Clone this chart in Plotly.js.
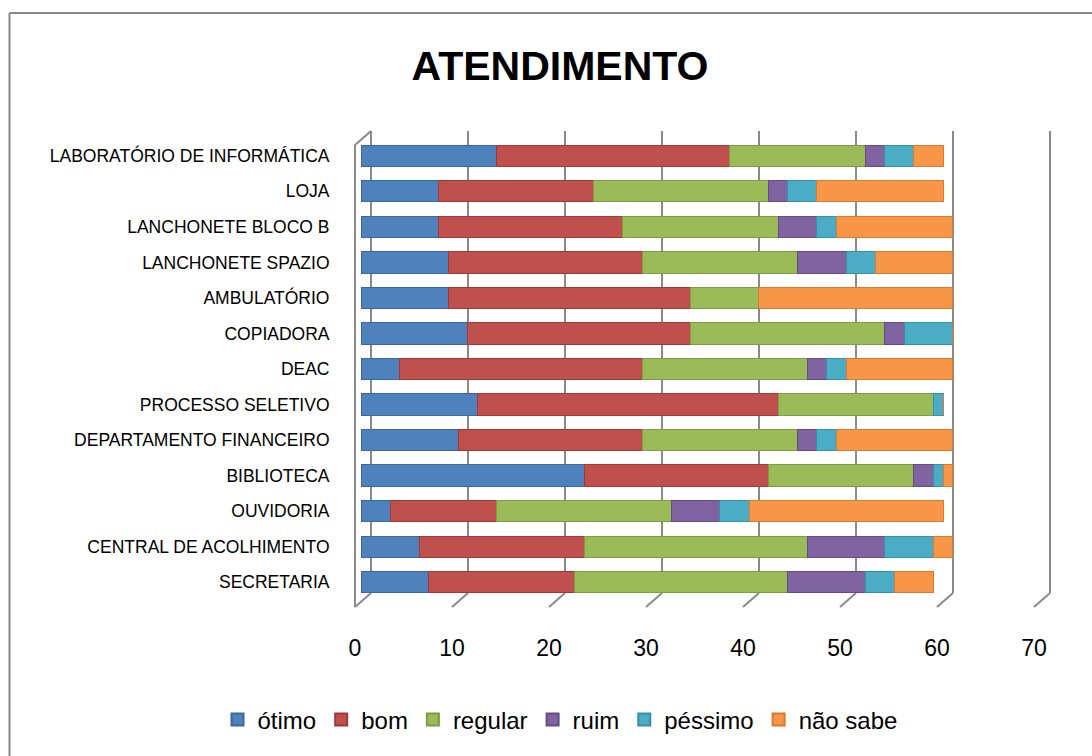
<!DOCTYPE html>
<html>
<head>
<meta charset="utf-8">
<script src="https://cdn.plot.ly/plotly-3.0.1.min.js"></script>
<style>html,body{margin:0;padding:0;background:#fff;}#chart{width:1092px;height:756px;}</style>
</head>
<body>
<div id="chart"></div>
<script>
// ---- data (bottom row first, as the category axis draws it) ----
const categories = [
  "SECRETARIA", "CENTRAL DE ACOLHIMENTO", "OUVIDORIA", "BIBLIOTECA",
  "DEPARTAMENTO FINANCEIRO", "PROCESSO SELETIVO", "DEAC", "COPIADORA",
  "AMBULATÓRIO", "LANCHONETE SPAZIO", "LANCHONETE BLOCO B", "LOJA",
  "LABORATÓRIO DE INFORMÁTICA"
];
const otimo   = [7, 6, 3, 23, 10, 12, 4, 11, 9, 9, 8, 8, 14];
const bom     = [15, 17, 11, 19, 19, 31, 25, 23, 25, 20, 19, 16, 24];
const regular = [22, 23, 18, 15, 16, 16, 17, 20, 7, 16, 16, 18, 14];
const ruim    = [8, 8, 5, 2, 2, 0, 2, 2, 0, 5, 4, 2, 2];
const pessimo = [3, 5, 3, 1, 2, 1, 2, 5, 0, 3, 2, 3, 3];
const naoSabe = [4, 2, 20, 1, 12, 0, 11, 0, 20, 8, 12, 13, 3];
const seriesNames = ["ótimo", "bom", "regular", "ruim", "péssimo", "não sabe"];
const xTicks = [0, 10, 20, 30, 40, 50, 60, 70];

// ---- styling ----
const colors = ["#4F81BD", "#C0504D", "#9BBB59", "#8064A2", "#4BACC6", "#F79646"];
const edge   = ["#3A679E", "#9E3A37", "#7E9C42", "#654C86", "#3590A8", "#D97A2E"];
const FONT = "Liberation Sans, Arial, sans-serif";

const W = 1092, H = 756;
const mL = 340, mR = 32, mT = 138, mB = 156;
const plotW = W - mL - mR, plotH = H - mT - mB;
const pxPerUnit = 9.7;           // 10 units = 97 px
const zeroPx = 361;              // bar origin (mid-depth)
const labelZeroPx = 355;         // front edge, where tick labels sit
const px2paperX = px => (px - mL) / plotW;
const py2paperY = py => (H - mB - py) / plotH;
const barRange = [(mL - zeroPx) / pxPerUnit, (W - mR - zeroPx) / pxPerUnit];
const labelRange = [(mL - labelZeroPx) / pxPerUnit, (W - mR - labelZeroPx) / pxPerUnit];

const allSeries = [otimo, bom, regular, ruim, pessimo, naoSabe];
const traces = allSeries.map((vals, i) => ({
  type: "bar",
  orientation: "h",
  name: seriesNames[i],
  y: categories,
  x: vals,
  marker: { color: colors[i], line: { color: edge[i], width: 1 } },
  hoverinfo: "x+name"
}));

// 3D-like walls: back-wall gridlines + slanted floor ticks
const backOff = 10 / pxPerUnit;    // back wall offset (px -> units)
const frontOff = -6 / pxPerUnit;   // front edge offset
const yBackTop = py2paperY(131), yBackBot = py2paperY(593), yFront = py2paperY(607);
const gridColor = "#8A8A8A";
const shapes = [];
xTicks.forEach(v => {
  shapes.push({ type: "line", layer: "below", xref: "x", yref: "paper",
    x0: v + backOff, x1: v + backOff, y0: yBackBot, y1: yBackTop,
    line: { color: gridColor, width: 2 } });
  shapes.push({ type: "line", layer: "below", xref: "x", yref: "paper",
    x0: v + frontOff, x1: v + backOff, y0: yFront, y1: yBackBot,
    line: { color: gridColor, width: 2 } });
});
// left side wall
shapes.push({ type: "line", layer: "below", xref: "x", yref: "paper",
  x0: frontOff, x1: frontOff, y0: yFront, y1: py2paperY(145),
  line: { color: gridColor, width: 2 } });
shapes.push({ type: "line", layer: "below", xref: "x", yref: "paper",
  x0: frontOff, x1: backOff, y0: py2paperY(145), y1: yBackTop,
  line: { color: gridColor, width: 2 } });
// chart-area border (top and left visible)
shapes.push({ type: "line", xref: "paper", yref: "paper",
  x0: px2paperX(9.5), x1: px2paperX(1092), y0: py2paperY(13), y1: py2paperY(13),
  line: { color: "#888888", width: 2 } });
shapes.push({ type: "line", xref: "paper", yref: "paper",
  x0: px2paperX(9.5), x1: px2paperX(9.5), y0: py2paperY(13), y1: py2paperY(756),
  line: { color: "#888888", width: 2 } });

const layout = {
  width: W, height: H,
  margin: { l: mL, r: mR, t: mT, b: mB, pad: 0 },
  paper_bgcolor: "#ffffff", plot_bgcolor: "rgba(0,0,0,0)",
  barmode: "stack",
  bargap: 0.4,
  font: { family: FONT, color: "#000000" },
  title: { text: "<b>ATENDIMENTO</b>", font: { family: FONT, size: 41, color: "#000000" },
           xref: "container", yref: "container", x: 560 / W, xanchor: "center",
           y: 1 - 66 / H, yanchor: "middle" },
  xaxis: { range: barRange, showgrid: false, zeroline: false, showline: false,
           showticklabels: false, ticks: "", fixedrange: true },
  xaxis2: { overlaying: "x", anchor: "y", side: "bottom",
            range: labelRange,
            tickmode: "array", tickvals: xTicks, ticktext: xTicks.map(String),
            showgrid: false, zeroline: false, showline: false,
            ticks: "outside", ticklen: 27, tickcolor: "rgba(0,0,0,0)",
            tickfont: { family: FONT, size: 23, color: "#000000" } },
  yaxis: { type: "category", categoryorder: "array", categoryarray: categories,
           range: [-0.5, categories.length - 0.5],
           showgrid: false, zeroline: false, showline: false,
           ticks: "outside", ticklen: 6, tickcolor: "rgba(0,0,0,0)",
           tickfont: { family: FONT, size: 17.5, color: "#000000" } },
  legend: { orientation: "h", xref: "container", yref: "container",
            x: 560 / W, xanchor: "center", y: 1 - 720 / H, yanchor: "middle",
            font: { family: FONT, size: 24, color: "#000000" },
            traceorder: "normal", itemwidth: 30, itemsizing: "constant" },
  shapes: shapes,
  showlegend: true
};

// tick-label axis trace (invisible) so xaxis2 renders
traces.push({ type: "scatter", x: [], y: [], xaxis: "x2", yaxis: "y",
              showlegend: false, hoverinfo: "skip" });

Plotly.newPlot("chart", traces, layout, { displayModeBar: false, staticPlot: true });
</script>
</body>
</html>
